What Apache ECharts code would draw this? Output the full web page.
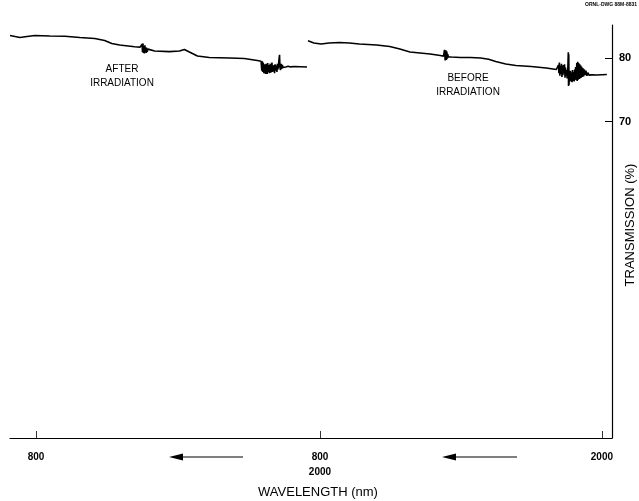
<!DOCTYPE html>
<html>
<head>
<meta charset="utf-8">
<script src="https://cdn.jsdelivr.net/npm/echarts@6/dist/echarts.min.js"></script>
<style>html,body{margin:0;padding:0;background:#fff}#c{width:639px;height:501px}</style>
</head>
<body>
<div id="c"></div>
<script>
// AFTER IRRADIATION (left panel)
const afterWavelength = [690,732,762,795,858,922,985,1048,1090,1120,1153,1217,1240,1246,1248,1250,1252,1254,1256,1258,1260,1262,1264,1266,1268,1270,1273,1276,1280,1301,1364,1406,1427,1448,1482,1532,1617,1680,1735,
  1751,1754,1756,1758,1760,1763,1765,1768,1770,1772,1774,1777,1779,1781,1783,1786,1788,1790,1792,1795,1797,1799,1801,1804,1806,1808,1810,1813,1815,1818,1820,1822,1824,1826,1829,1831,1833,1836,1838,1841,1843,1848,1855,1865,1877,1890,1945];
const afterTransmission = [83.54,83.23,83.39,83.54,83.46,83.42,83.23,83.07,82.76,82.28,82.05,81.78,81.72,81.70,82.2,80.9,82.3,80.8,81.9,80.7,82.0,80.9,81.7,80.8,81.6,81.0,81.4,81.1,81.2,81.1,81.0,81.1,81.34,80.94,80.31,80.08,80.0,79.92,79.6,
  79.5,78.0,79.5,77.8,79.3,77.6,79.0,78.2,77.5,79.1,78.0,77.5,79.2,77.8,78.9,77.6,78.7,79.1,77.7,78.4,79.3,77.8,78.8,77.9,78.9,77.6,79.0,78.0,78.8,77.8,79.1,78.2,78.6,79.5,80.5,78.5,78.1,79.1,78.3,78.9,78.5,78.8,78.6,78.7,78.6,78.66,78.58];
// BEFORE IRRADIATION (right panel)
const beforeWavelength = [749,774,805,839,882,925,968,1041,1097,1140,1183,1226,1269,1312,1326,1330,1333,1336,1338,1340,1342,1344,1346,1348,1352,1360,1398,1441,1484,1518,1548,1591,1634,1699,1763,1806,
  1812,1815,1817,1819,1821,1823,1826,1828,1830,1832,1834,1836,1839,1841,1843,1845,1848,1850,1852,1855,1857,1858,1859,1860,1862,1864,1866,1868,1871,1873,1875,1877,1880,1882,1884,1886,1888,1891,1893,1895,1897,1899,1901,1904,1906,1908,1910,1912,1914,1917,1919,1922,1925,1928,1932,1936,1940,1945,1950,1957,1978,2021];
const beforeTransmission = [82.72,82.36,82.20,82.36,82.44,82.36,82.20,82.05,81.81,81.42,80.94,80.79,80.63,80.39,80.3,81.3,79.6,81.2,79.7,81.0,79.9,80.6,80.2,80.3,80.2,80.15,80.08,80.08,80.0,79.8,79.45,79.06,78.82,78.66,78.43,78.19,
  78.1,78.9,77.6,79.3,77.2,78.8,77.5,79.1,77.0,78.7,77.3,78.9,77.6,79.0,76.9,78.5,77.2,78.1,76.8,78.4,80.9,75.6,80.6,75.8,77.9,76.5,78.0,76.3,77.7,76.2,78.1,76.4,77.8,76.3,78.2,76.6,78.6,76.5,79.2,76.4,79.4,76.6,79.2,76.7,79.0,76.8,78.8,76.9,78.6,77.0,78.4,77.1,78.2,77.3,78.0,77.2,77.7,77.3,77.5,77.35,77.32,77.40];
// Axis ticks / labels
const leftXTicks = [800];
const rightXTicks = [800, 2000];
const rightXLabels = {800: '800\n2000', 2000: '2000'};
const yTicks = [70, 80];

const pairs = (xs, ys) => xs.map((x, i) => [x, ys[i]]);
const font = 'Liberation Sans, Arial, sans-serif';
const yMin = 20.16, yMax = 85.2;

const chart = echarts.init(document.getElementById('c'), null, {renderer: 'canvas'});
const xAxisCommon = {
  type: 'value',
  axisLine: {show: true, lineStyle: {color: '#000', width: 1.2}},
  axisTick: {show: true, inside: true, length: 7, lineStyle: {color: '#000', width: 0.8}},
  splitLine: {show: false},
  axisLabel: {color: '#000', fontFamily: font, fontSize: 10, fontWeight: 'bold', margin: 12, lineHeight: 15}
};
chart.setOption({
  animation: false,
  backgroundColor: '#fff',
  grid: [
    {left: 10, width: 310, top: 25, height: 413, outerBoundsMode: 'none', containLabel: false},
    {left: 300, width: 312, top: 25, height: 413, outerBoundsMode: 'none', containLabel: false}
  ],
  xAxis: [
    Object.assign({}, xAxisCommon, {gridIndex: 0, min: 690, max: 2000,
      axisTick: Object.assign({}, xAxisCommon.axisTick, {customValues: leftXTicks}),
      axisLabel: Object.assign({}, xAxisCommon.axisLabel, {customValues: leftXTicks})}),
    Object.assign({}, xAxisCommon, {gridIndex: 1, min: 715, max: 2043,
      axisTick: Object.assign({}, xAxisCommon.axisTick, {customValues: rightXTicks}),
      axisLabel: Object.assign({}, xAxisCommon.axisLabel, {customValues: rightXTicks, formatter: v => rightXLabels[v]})})
  ],
  yAxis: [
    {type: 'value', gridIndex: 0, min: yMin, max: yMax, show: false},
    {type: 'value', gridIndex: 1, min: yMin, max: yMax, position: 'right',
      axisLine: {show: true, lineStyle: {color: '#000', width: 1.2}},
      axisTick: {show: true, inside: true, length: 7, customValues: yTicks, lineStyle: {color: '#000', width: 1}},
      axisLabel: {customValues: yTicks, color: '#000', fontFamily: font, fontSize: 11, fontWeight: 'bold', margin: 7},
      splitLine: {show: false}
    }
  ],
  series: [
    {type: 'line', xAxisIndex: 0, yAxisIndex: 0, data: pairs(afterWavelength, afterTransmission), symbol: 'none',
      lineStyle: {color: '#000', width: 1.6}},
    {type: 'line', xAxisIndex: 1, yAxisIndex: 1, data: pairs(beforeWavelength, beforeTransmission), symbol: 'none',
      lineStyle: {color: '#000', width: 1.6}}
  ],
  graphic: [
    {type: 'text', right: 2, top: 2, style: {text: 'ORNL-DWG 88M-8831', font: 'bold 5px ' + font, fill: '#000'}},
    {type: 'text', x: 122, y: 76, style: {text: 'AFTER\nIRRADIATION', font: '10px ' + font, fill: '#000', align: 'center', verticalAlign: 'middle', lineHeight: 14}},
    {type: 'text', x: 468, y: 85, style: {text: 'BEFORE\nIRRADIATION', font: '10px ' + font, fill: '#000', align: 'center', verticalAlign: 'middle', lineHeight: 14}},
    {type: 'text', x: 318, y: 492, style: {text: 'WAVELENGTH (nm)', font: '13px ' + font, fill: '#000', align: 'center', verticalAlign: 'middle'}},
    {type: 'text', x: 630, y: 225, rotation: Math.PI / 2, style: {text: 'TRANSMISSION (%)', font: '13px ' + font, fill: '#000', align: 'center', verticalAlign: 'middle'}},
    {type: 'line', shape: {x1: 180, y1: 457, x2: 243, y2: 457}, style: {stroke: '#000', lineWidth: 1.2}},
    {type: 'polygon', shape: {points: [[169, 457], [183, 453.5], [183, 460.5]]}, style: {fill: '#000'}},
    {type: 'line', shape: {x1: 453, y1: 457, x2: 517, y2: 457}, style: {stroke: '#000', lineWidth: 1.2}},
    {type: 'polygon', shape: {points: [[442, 457], [456, 453.5], [456, 460.5]]}, style: {fill: '#000'}}
  ]
});
</script>
</body>
</html>
